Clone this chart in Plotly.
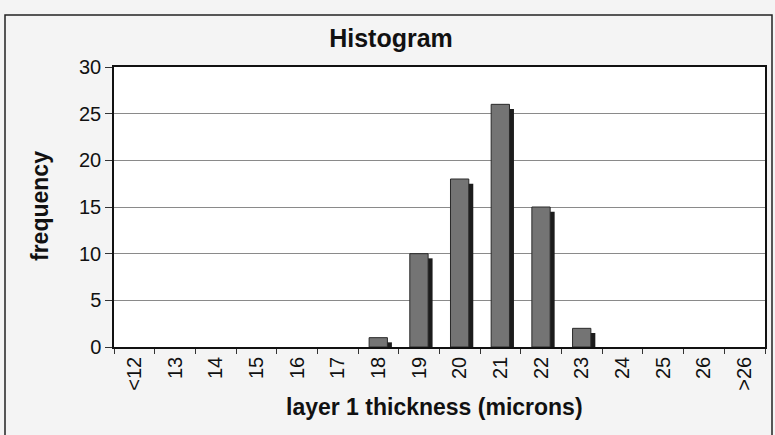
import plotly.graph_objects as go

categories = ["<12", "13", "14", "15", "16", "17", "18", "19", "20", "21",
              "22", "23", "24", "25", "26", ">26"]
frequency = [0, 0, 0, 0, 0, 0, 1, 10, 18, 26, 15, 2, 0, 0, 0, 0]
y_ticks = [0, 5, 10, 15, 20, 25, 30]

W, H = 775, 435
L, R, T, B = 114, 10, 67, 88
pw, ph = W - L - R, H - T - B

def px_x(px):
    return (px - L) / pw

def px_y(py):
    return (H - B - py) / ph

DEPTH = 0.5  # visual 3D depth drop for side face
side_vals = [max(v - DEPTH, 0) for v in frequency]
outline_w = [1 if v > 0 else 0 for v in frequency]

fig = go.Figure()
fig.add_trace(go.Bar(
    x=categories, y=side_vals, width=0.13, offset=0.2,
    marker=dict(color="#1c1c1c", line=dict(width=0)),
    hoverinfo="skip", showlegend=False,
))
fig.add_trace(go.Bar(
    x=categories, y=frequency, width=0.45, offset=-0.23,
    marker=dict(color="#747474", line=dict(color="#2a2a2a", width=outline_w)),
    showlegend=False,
))

fig.update_layout(
    width=W, height=H,
    margin=dict(l=L, r=R, t=T, b=B, pad=0, autoexpand=False),
    barmode="overlay",
    paper_bgcolor="#f4f4f4",
    plot_bgcolor="#ffffff",
    font=dict(family="Liberation Sans, Arial, sans-serif", color="#111111"),
    title=dict(text="<b>Histogram</b>", x=391 / W, xanchor="center",
               y=1 - 38 / H, yanchor="middle",
               font=dict(size=25, color="#111111")),
    xaxis=dict(
        type="category", categoryorder="array", categoryarray=categories,
        range=[-0.5, len(categories) - 0.5], automargin=False,
        tickson="boundaries", ticks="outside", ticklen=5, tickcolor="#333333",
        tickangle=-90, tickfont=dict(size=20),
        showgrid=False, showline=True, linecolor="#111111", linewidth=1.5,
        mirror=True, zeroline=False,
    ),
    yaxis=dict(
        range=[0, 30], tickvals=y_ticks, automargin=False,
        ticks="outside", ticklen=7, tickcolor="#333333",
        tickfont=dict(size=20),
        showgrid=True, gridcolor="#8a8a8a", gridwidth=1,
        showline=True, linecolor="#111111", linewidth=1.5, mirror=True,
        zeroline=False,
    ),
    annotations=[
        dict(text="<b>frequency</b>", textangle=-90, xref="paper", yref="paper",
             x=px_x(40), y=px_y(206), xanchor="center", yanchor="middle",
             showarrow=False, font=dict(size=23, color="#111111")),
        dict(text="<b>layer 1 thickness (microns)</b>", xref="paper", yref="paper",
             x=px_x(434), y=px_y(407), xanchor="center", yanchor="middle",
             showarrow=False, font=dict(size=23, color="#111111")),
    ],
    shapes=[
        dict(type="rect", xref="paper", yref="paper",
             x0=px_x(5), x1=px_x(772), y0=px_y(440), y1=px_y(15),
             line=dict(color="#222222", width=1.5), layer="below"),
    ],
)

fig.write_html("out.html", config={"displayModeBar": False},
               post_script="document.body.style.margin='0';document.body.style.overflow='hidden';")
